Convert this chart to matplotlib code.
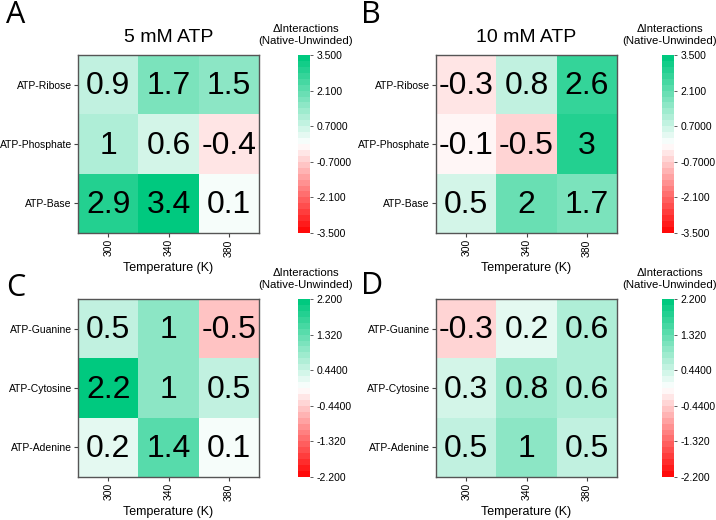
import numpy as np
import matplotlib.pyplot as plt
from matplotlib.colors import LinearSegmentedColormap

plt.rcParams['font.family'] = ['Liberation Sans', 'DejaVu Sans']

temps = ['300', '340', '380']

rows_ab = ['ATP-Ribose', 'ATP-Phosphate', 'ATP-Base']
rows_cd = ['ATP-Guanine', 'ATP-Cytosine', 'ATP-Adenine']

vals_a = [[0.9, 1.7, 1.5],
          [1.0, 0.6, -0.4],
          [2.9, 3.4, 0.1]]
vals_b = [[-0.3, 0.8, 2.6],
          [-0.1, -0.5, 3.0],
          [0.5, 2.0, 1.7]]
vals_c = [[0.5, 1.0, -0.5],
          [2.2, 1.0, 0.5],
          [0.2, 1.4, 0.1]]
vals_d = [[-0.3, 0.2, 0.6],
          [0.3, 0.8, 0.6],
          [0.5, 1.0, 0.5]]

lim_ab = 3.5
lim_cd = 2.2
ticks_ab = ['3.500', '2.100', '0.7000', '-0.7000', '-2.100', '-3.500']
ticks_cd = ['2.200', '1.320', '0.4400', '-0.4400', '-1.320', '-2.200']

cmap = LinearSegmentedColormap.from_list('rwg', ['#ff0a0a', '#ffffff', '#00c97f'], N=30)

fig = plt.figure(figsize=(7.16, 5.2), dpi=100)

W, H = 716, 520


def box(x0, y0, x1, y1):
    return [x0 / W, 1 - y1 / H, (x1 - x0) / W, (y1 - y0) / H]


def panel(hx, cx, top, bottom, vals, rows, lim, tlabels, title, letter, lx, ly):
    ax = fig.add_axes(box(hx, top, hx + 181, bottom))
    cax = fig.add_axes(box(cx, top, cx + 12, bottom))
    data = np.array(vals)
    im = ax.imshow(data, cmap=cmap, vmin=-lim, vmax=lim, aspect='auto')
    for i in range(data.shape[0]):
        for j in range(data.shape[1]):
            ax.text(j, i + 0.03, f'{data[i, j]:g}', ha='center', va='center',
                    fontsize=23, color='black')
    ax.set_xticks(range(len(temps)))
    ax.set_xticklabels(temps, rotation=90, fontsize=7.5)
    ax.set_yticks(range(len(rows)))
    ax.set_yticklabels(rows, fontsize=7.5)
    ax.tick_params(length=3, width=0.8, color='#444444', pad=1.5)
    ax.set_xlabel('Temperature (K)', fontsize=9, labelpad=4)
    for s in ax.spines.values():
        s.set_color('#555555')
        s.set_linewidth(1.0)
    if title:
        ax.set_title(title, fontsize=14, pad=9)

    cb = fig.colorbar(im, cax=cax)
    tv = np.linspace(lim, -lim, 6)
    cb.set_ticks(tv)
    cb.set_ticklabels(tlabels)
    cb.outline.set_visible(False)
    cax.tick_params(labelsize=7.5, length=2.5, width=0.6, color='#444444', pad=2)
    fig.text((cx + 8) / W, 1 - (top - 9) / H, '\u0394Interactions\n(Native-Unwinded)',
             ha='center', va='bottom', fontsize=8.2, linespacing=1.3)
    fig.text(lx / W, 1 - ly / H, letter, fontsize=22, family=['Open Sans', 'DejaVu Sans'],
             ha='left', va='top')


panel(78, 298, 55, 233, vals_a, rows_ab, lim_ab, ticks_ab, '5 mM ATP', 'A', 6, 0)
panel(436, 662, 55, 233, vals_b, rows_ab, lim_ab, ticks_ab, '10 mM ATP', 'B', 361, 0)
panel(78, 298, 299, 477, vals_c, rows_cd, lim_cd, ticks_cd, None, 'C', 6, 273)
panel(436, 662, 299, 477, vals_d, rows_cd, lim_cd, ticks_cd, None, 'D', 361, 271)

fig.savefig('out.png', dpi=100)
